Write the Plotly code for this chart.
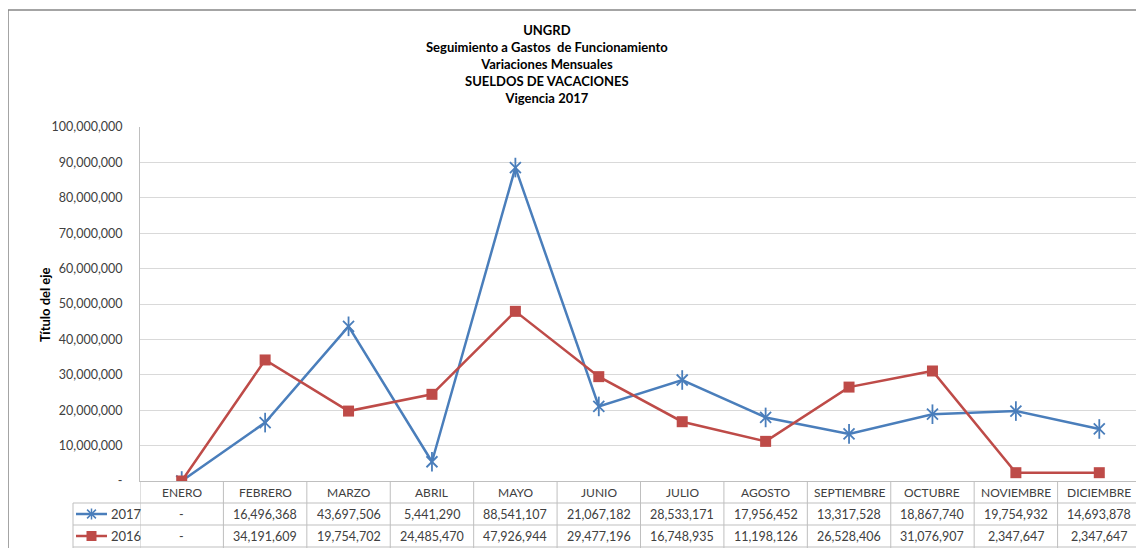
# UNGRD - sueldos de vacaciones, variaciones mensuales 2017 vs 2016

import plotly.graph_objects as go

meses = ["ENERO", "FEBRERO", "MARZO", "ABRIL", "MAYO", "JUNIO", "JULIO",
         "AGOSTO", "SEPTIEMBRE", "OCTUBRE", "NOVIEMBRE", "DICIEMBRE"]
valores_2017 = [0, 16496368, 43697506, 5441290, 88541107, 21067182, 28533171,
                17956452, 13317528, 18867740, 19754932, 14693878]
valores_2016 = [0, 34191609, 19754702, 24485470, 47926944, 29477196, 16748935,
                11198126, 26528406, 31076907, 2347647, 2347647]
y_ticks = [0, 10000000, 20000000, 30000000, 40000000, 50000000,
           60000000, 70000000, 80000000, 90000000, 100000000]
series = ["2017", "2016"]

# the page body has an 8px margin, so the figure is a bit smaller than the window
OFF = 8
W, H = 1144 - OFF, 548 - OFF
AZUL = "#4a7ebb"
ROJO = "#be4b48"
GRIS_TXT = "#404040"
LINEA = "#bfbfbf"
FONT = "Lato, Carlito, Calibri, sans-serif"


# helpers: window pixel -> paper coords (margins are zero)
def px(x):
    return (x - OFF) / W


def py(y):
    return 1 - (y - OFF) / H


def fmt(v):
    return "-" if v == 0 else f"{v:,}"


# plot area in window pixels
X0, X1, Y0, Y1 = 140, 1141, 127, 481
ROW_Y = [514, 536]  # centres of the 2017 / 2016 table rows

fig = go.Figure()

fig.add_trace(go.Scatter(
    x=meses, y=valores_2017, name=series[0], mode="lines+markers",
    line=dict(color=AZUL, width=2.5),
    marker=dict(symbol="x-thin-open", size=11, color=AZUL,
                line=dict(color=AZUL, width=1.8)),
))
# vertical stroke on top of the X -> excel style star marker
fig.add_trace(go.Scatter(
    x=meses, y=valores_2017, mode="markers", hoverinfo="skip",
    marker=dict(symbol="line-ns-open", size=14, color=AZUL,
                line=dict(color=AZUL, width=1.8)),
))
fig.add_trace(go.Scatter(
    x=meses, y=valores_2016, name=series[1], mode="lines+markers",
    line=dict(color=ROJO, width=2.5),
    marker=dict(symbol="square", size=11, color=ROJO),
))

anns = []
# title
anns.append(dict(
    text="<b>UNGRD<br>Seguimiento a Gastos  de Funcionamiento<br>Variaciones Mensuales"
         "<br>SUELDOS DE VACACIONES<br>Vigencia 2017</b>",
    x=px(547), y=py(64), xref="paper", yref="paper", showarrow=False,
    xanchor="center", yanchor="middle", font=dict(size=13, color="black", family=FONT),
))
# axis title
anns.append(dict(
    text="<b>Título del eje</b>", textangle=-90,
    x=px(35), y=py(305), xref="paper", yref="paper", showarrow=False,
    font=dict(size=13, color="black", family=FONT),
))

# data table text
for i, m in enumerate(meses):
    anns.append(dict(text=m, x=m, y=py(492), xref="x", yref="paper", showarrow=False,
                     yanchor="middle", font=dict(size=12, color=GRIS_TXT, family=FONT)))
    for vals, yy in zip([valores_2017, valores_2016], ROW_Y):
        anns.append(dict(text=fmt(vals[i]), x=m, y=py(yy), xref="x", yref="paper",
                         showarrow=False, yanchor="middle",
                         font=dict(size=12.5, color=GRIS_TXT, family=FONT)))

shapes = []
# chart frame
shapes.append(dict(type="rect", xref="paper", yref="paper",
                   x0=px(8), x1=px(1170), y0=py(10), y1=py(600),
                   line=dict(color="#868686", width=1.5)))
# table grid: horizontal lines
for yy in [503, 525, 547]:
    shapes.append(dict(type="line", xref="paper", yref="paper",
                       x0=px(73), x1=px(X1), y0=py(yy), y1=py(yy),
                       line=dict(color=LINEA, width=1)))
# table grid: vertical lines at category boundaries
for i in range(len(meses) + 1):
    shapes.append(dict(type="line", xref="x", yref="paper",
                       x0=i - 0.5, x1=i - 0.5, y0=py(Y1), y1=py(550),
                       line=dict(color=LINEA, width=1)))
shapes.append(dict(type="line", xref="paper", yref="paper",
                   x0=px(73), x1=px(73), y0=py(503), y1=py(550),
                   line=dict(color=LINEA, width=1)))

# legend keys inside the table (line + marker + label)
for name, color, yy in zip(series, [AZUL, ROJO], ROW_Y):
    shapes.append(dict(type="line", xref="paper", yref="paper",
                       x0=px(76), x1=px(107), y0=py(yy), y1=py(yy),
                       line=dict(color=color, width=2.5)))
    anns.append(dict(text=name, x=px(109), y=py(yy), xref="paper", yref="paper",
                     showarrow=False, xanchor="left", yanchor="middle",
                     font=dict(size=13, color=GRIS_TXT, family=FONT)))
# star key for 2017
cx, cy, r = 91.5, ROW_Y[0], 5.5
for dx, dy in [(0, r), (r * 0.8, r * 0.8), (r * 0.8, -r * 0.8)]:
    shapes.append(dict(type="line", xref="paper", yref="paper",
                       x0=px(cx - dx), x1=px(cx + dx), y0=py(cy - dy), y1=py(cy + dy),
                       line=dict(color=AZUL, width=1.5)))
# square key for 2016
shapes.append(dict(type="rect", xref="paper", yref="paper",
                   x0=px(86.5), x1=px(96.5), y0=py(ROW_Y[1] - 5), y1=py(ROW_Y[1] + 5),
                   fillcolor=ROJO, line=dict(width=0)))

fig.update_layout(
    width=W, height=H,
    margin=dict(l=0, r=0, t=0, b=0, autoexpand=False),
    paper_bgcolor="white", plot_bgcolor="white",
    font=dict(family=FONT, size=12, color=GRIS_TXT),
    xaxis=dict(domain=[px(X0), px(X1)], range=[-0.5, 11.5], type="category",
               showticklabels=False, showgrid=False, zeroline=False, automargin=False,
               showline=True, linecolor=LINEA, linewidth=1),
    yaxis=dict(domain=[py(Y1), py(Y0)], range=[0, 100000000], automargin=False,
               tickvals=y_ticks, ticktext=[fmt(v) for v in y_ticks],
               showgrid=True, gridcolor="#d9d9d9", gridwidth=1, zeroline=False,
               showline=True, linecolor=LINEA, linewidth=1,
               ticklabelstandoff=14, tickfont=dict(size=12.5, color=GRIS_TXT)),
    showlegend=False,
    annotations=anns,
    shapes=shapes,
)

fig.write_html("out.html")
